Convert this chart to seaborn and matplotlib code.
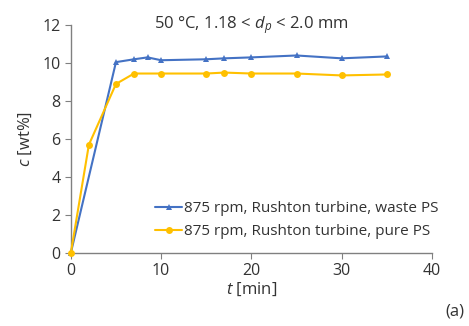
import matplotlib
matplotlib.use("Agg")
import matplotlib.pyplot as plt
import seaborn as sns
import pandas as pd

# time points [min] and concentration [wt%]
t_waste = [0, 5, 7, 8.5, 10, 15, 17, 20, 25, 30, 35]
c_waste = [0, 10.05, 10.2, 10.3, 10.15, 10.2, 10.25, 10.3, 10.4, 10.25, 10.35]
t_pure = [0, 2, 5, 7, 10, 15, 17, 20, 25, 30, 35]
c_pure = [0, 5.7, 8.9, 9.45, 9.45, 9.45, 9.5, 9.45, 9.45, 9.35, 9.4]

label_waste = "875 rpm, Rushton turbine, waste PS"
label_pure = "875 rpm, Rushton turbine, pure PS"

sns.set_style("white")
plt.rcParams['font.family'] = ['Open Sans', 'DejaVu Sans']
plt.rcParams['mathtext.fontset'] = 'custom'
plt.rcParams['mathtext.it'] = 'Open Sans:italic'
plt.rcParams['mathtext.rm'] = 'Open Sans'

fig = plt.figure(figsize=(4.69, 3.26), dpi=100)
ax = fig.add_axes([0.151, 0.224, 0.77, 0.699])

df_w = pd.DataFrame({"t": t_waste, "c": c_waste})
df_p = pd.DataFrame({"t": t_pure, "c": c_pure})
sns.lineplot(data=df_w, x="t", y="c", ax=ax, color="#4472C4", marker="^",
             markersize=5, markeredgewidth=0, linewidth=1.5, label=label_waste)
sns.lineplot(data=df_p, x="t", y="c", ax=ax, color="#FFC000", marker="o",
             markersize=5, markeredgewidth=0, linewidth=1.5, label=label_pure)
for ln in ax.get_lines():
    ln.set_clip_on(False)
    ln.set_zorder(3)

ax.set_xlim(0, 40)
ax.set_ylim(0, 12)
ax.set_xticks([0, 10, 20, 30, 40])
ax.set_yticks([0, 2, 4, 6, 8, 10, 12])
ax.tick_params(labelsize=11.5, length=4, direction="out",
               bottom=True, left=True, colors="#333333")
ax.tick_params(color="#808080")
for s in ["top", "right"]:
    ax.spines[s].set_visible(False)
for s in ["left", "bottom"]:
    ax.spines[s].set_color("#808080")
    ax.spines[s].set_linewidth(1)

ax.set_xlabel("$t$ [min]", fontsize=12, color="#333333", labelpad=1)
ax.set_ylabel("$c$ [wt%]", fontsize=12, color="#333333", labelpad=6)
ax.text(0.5, 1.0, "50 °C, 1.18 < $d_p$ < 2.0 mm", transform=ax.transAxes,
        ha="center", va="center", fontsize=12, color="#333333")

leg = ax.legend(loc="lower right", frameon=False, fontsize=11, handlelength=1.8,
                handletextpad=0.1, borderaxespad=0, labelspacing=0.5,
                bbox_to_anchor=(1.035, 0.035))
for txt in leg.get_texts():
    txt.set_color("#333333")

fig.text(0.99, 0.02, "(a)", ha="right", va="bottom", fontsize=12, color="#333333")

fig.savefig("out.png", dpi=100, facecolor="white")
